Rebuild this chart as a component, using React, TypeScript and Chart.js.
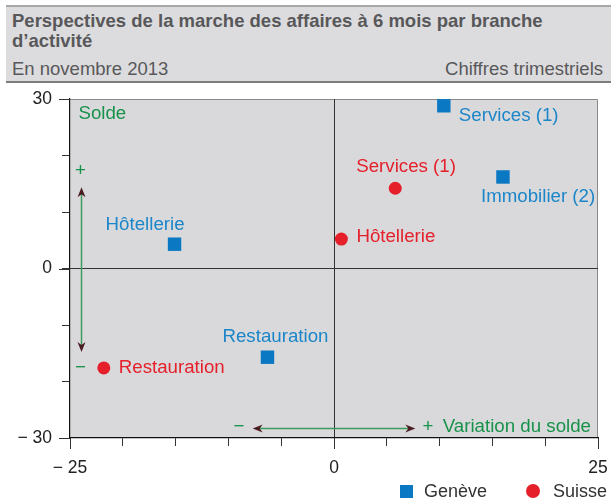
import React, { useEffect, useRef } from "react";
import { Chart, registerables } from "chart.js";
Chart.register(...registerables);

// ---- data ----
const geneveNames = ["Services (1)", "Immobilier (2)", "Hôtellerie", "Restauration"];
const geneveX = [10.4, 16.0, -15.1, -6.3];
const geneveY = [28.8, 16.2, 4.3, -15.7];

const suisseNames = ["Services (1)", "Hôtellerie", "Restauration"];
const suisseX = [5.8, 0.7, -21.8];
const suisseY = [14.2, 5.2, -17.6];

const xTickLabels: Record<string, string> = { "-25": "− 25", "0": "0", "25": "25" };
const yTickLabels: Record<string, string> = { "30": "30", "0": "0", "-30": "− 30" };

const seriesNames = ["Genève", "Suisse"];

// ---- styles ----
const BLUE = "#0a78c2";
const BLUE_TXT = "#1b86c9";
const RED = "#e5202b";
const GREEN = "#17924a";
const ARROW_HEAD = "#4a1c22";
const FONT = "'Liberation Sans', Arial, sans-serif";

const genevePlacement = [
  { dx: 15, dy: 10, align: "left" },
  { dx: -22, dy: 20, align: "left" },
  { dx: 10, dy: -19, align: "right" },
  { dx: -45, dy: -20, align: "left" },
];
const suissePlacement = [
  { dx: -39, dy: -21, align: "left" },
  { dx: 15, dy: -2, align: "left" },
  { dx: 15, dy: 0, align: "left" },
];

function arrowHead(ctx: CanvasRenderingContext2D, x: number, y: number, ang: number) {
  ctx.save();
  ctx.translate(x, y);
  ctx.rotate(ang);
  ctx.fillStyle = ARROW_HEAD;
  ctx.beginPath();
  ctx.moveTo(0, 0);
  ctx.lineTo(-10, -4);
  ctx.lineTo(-7, 0);
  ctx.lineTo(-10, 4);
  ctx.closePath();
  ctx.fill();
  ctx.restore();
}

const decorPlugin = {
  id: "decor",
  beforeDraw(chart: any) {
    const { ctx, chartArea: a } = chart;
    ctx.save();
    ctx.fillStyle = "#d9d9db";
    ctx.fillRect(a.left, a.top, a.right - a.left, a.bottom - a.top);
    ctx.strokeStyle = "#8a8a8a";
    ctx.lineWidth = 1;
    ctx.beginPath();
    ctx.moveTo(a.left, a.top + 0.5);
    ctx.lineTo(a.right - 0.5, a.top + 0.5);
    ctx.lineTo(a.right - 0.5, a.bottom);
    ctx.stroke();
    ctx.restore();
  },
  afterDraw(chart: any) {
    // longer marks for labelled ticks
    const { ctx, chartArea: a } = chart;
    const xs = chart.scales.x;
    const ys = chart.scales.y;
    ctx.save();
    ctx.strokeStyle = "#333";
    ctx.lineWidth = 1;
    Object.keys(xTickLabels).forEach((k) => {
      const x = Math.round(xs.getPixelForValue(Number(k))) + 0.5;
      ctx.beginPath();
      ctx.moveTo(x, a.bottom);
      ctx.lineTo(x, a.bottom + 11);
      ctx.stroke();
    });
    Object.keys(yTickLabels).forEach((k) => {
      const y = Math.round(ys.getPixelForValue(Number(k))) + 0.5;
      ctx.beginPath();
      ctx.moveTo(a.left, y);
      ctx.lineTo(a.left - 11, y);
      ctx.stroke();
    });
    ctx.restore();
  },
  afterDatasetsDraw(chart: any) {
    const { ctx } = chart;
    const xs = chart.scales.x;
    const ys = chart.scales.y;
    const px = (v: number) => xs.getPixelForValue(v);
    const py = (v: number) => ys.getPixelForValue(v);
    ctx.save();
    ctx.font = `18.7px ${FONT}`;
    ctx.textBaseline = "middle";
    // point labels
    geneveNames.forEach((n, i) => {
      const p = genevePlacement[i];
      ctx.fillStyle = BLUE_TXT;
      ctx.textAlign = p.align;
      ctx.fillText(n, px(geneveX[i]) + p.dx, py(geneveY[i]) + p.dy);
    });
    suisseNames.forEach((n, i) => {
      const p = suissePlacement[i];
      ctx.fillStyle = RED;
      ctx.textAlign = p.align;
      ctx.fillText(n, px(suisseX[i]) + p.dx, py(suisseY[i]) + p.dy);
    });
    // annotations
    ctx.fillStyle = GREEN;
    ctx.textAlign = "left";
    ctx.fillText("Solde", px(-24.2), py(27.3));
    ctx.textAlign = "center";
    ctx.fillText("+", px(-24), py(17.3));
    ctx.fillText("−", px(-24), py(-17.6));
    ctx.fillText("−", px(-9), py(-28.1));
    ctx.fillText("+", px(8.9), py(-28.1));
    ctx.textAlign = "left";
    ctx.fillText("Variation du solde", px(10.3), py(-28.1));
    // arrows
    ctx.strokeStyle = "#3c9a5c";
    ctx.lineWidth = 1.5;
    const vx = Math.round(px(-24)) + 0.5;
    const vt = py(14.4), vb = py(-14.8);
    ctx.beginPath();
    ctx.moveTo(vx, vt + 4);
    ctx.lineTo(vx, vb - 4);
    ctx.stroke();
    arrowHead(ctx, vx, vt, -Math.PI / 2);
    arrowHead(ctx, vx, vb, Math.PI / 2);
    const hy = Math.round(py(-28.2)) + 0.5;
    const hl = px(-7.7), hr = px(7.7);
    ctx.beginPath();
    ctx.moveTo(hl + 4, hy);
    ctx.lineTo(hr - 4, hy);
    ctx.stroke();
    arrowHead(ctx, hl, hy, Math.PI);
    arrowHead(ctx, hr, hy, 0);
    ctx.restore();
  },
};

export default function App() {
  const ref = useRef<HTMLCanvasElement>(null);
  useEffect(() => {
    if (!ref.current) return;
    const chart = new Chart(ref.current, {
      type: "scatter",
      data: {
        datasets: [
          {
            label: seriesNames[0],
            data: geneveX.map((x, i) => ({ x, y: geneveY[i] })),
            backgroundColor: BLUE,
            borderColor: BLUE,
            pointStyle: "rect",
            pointRadius: 9.5,
            pointHoverRadius: 9.5,
            borderWidth: 0,
          },
          {
            label: seriesNames[1],
            data: suisseX.map((x, i) => ({ x, y: suisseY[i] })),
            backgroundColor: RED,
            borderColor: RED,
            pointStyle: "circle",
            pointRadius: 6.5,
            pointHoverRadius: 6.5,
            borderWidth: 0,
          },
        ],
      },
      options: {
        animation: false,
        responsive: false,
        events: [],
        layout: { padding: { top: 99, right: 13, bottom: 23, left: 0 } },
        plugins: { legend: { display: false }, tooltip: { enabled: false } },
        scales: {
          x: {
            type: "linear",
            min: -25,
            max: 25,
            afterFit: (s: any) => { s.height = 40; s.paddingLeft = 0; s.paddingRight = 0; },
            border: { color: "#111", width: 1.2 },
            grid: {
              color: (c: any) => (c.tick && c.tick.value === 0 ? "#333" : "rgba(0,0,0,0)"),
              tickColor: "#333",
              tickLength: 8,
              lineWidth: 1,
            },
            ticks: {
              stepSize: 5,
              autoSkip: false,
              maxRotation: 0,
              padding: 12,
              color: "#222",
              font: { family: FONT, size: 17.5 },
              callback: (v: any) => xTickLabels[String(v)] ?? "",
            },
          },
          y: {
            type: "linear",
            min: -30,
            max: 30,
            afterFit: (s: any) => { s.width = 70; s.paddingTop = 0; s.paddingBottom = 0; },
            border: { color: "#111", width: 1.2 },
            grid: {
              color: (c: any) => (c.tick && c.tick.value === 0 ? "#333" : "rgba(0,0,0,0)"),
              tickColor: "#333",
              tickLength: 8,
              lineWidth: 1,
            },
            ticks: {
              stepSize: 10,
              autoSkip: false,
              padding: 10,
              color: "#222",
              font: { family: FONT, size: 17.5 },
              callback: (v: any) => yTickLabels[String(v)] ?? "",
            },
          },
        },
      },
      plugins: [decorPlugin],
    } as any);
    return () => chart.destroy();
  }, []);

  return (
    <div style={{ position: "absolute", left: 0, top: 0, width: 611, height: 501, background: "#fff", fontFamily: FONT }}>
      <canvas ref={ref} width={611} height={501} style={{ position: "absolute", left: 0, top: 0, display: "block" }} />
      <div
        style={{
          position: "absolute", left: 6, top: 5, width: 605, height: 74,
          background: "#dcdcde", borderTop: "2px solid #a8a8aa", borderBottom: "2px solid #7d7d7f",
          color: "#58585a",
        }}
      >
        <div style={{ position: "absolute", left: 6, top: 4, width: 590, fontWeight: "bold", fontSize: 18.5, lineHeight: "20px" }}>
          Perspectives de la marche des affaires à 6 mois par branche d’activité
        </div>
        <div style={{ position: "absolute", left: 6, top: 52, fontSize: 18.5, lineHeight: "20px" }}>En novembre 2013</div>
        <div style={{ position: "absolute", right: 8, top: 52, fontSize: 18.5, lineHeight: "20px" }}>Chiffres trimestriels</div>
      </div>
      <div style={{ position: "absolute", left: 400, top: 485, width: 13, height: 13, background: BLUE }} />
      <div style={{ position: "absolute", left: 424, top: 480, fontSize: 18, lineHeight: "22px", color: "#333" }}>{seriesNames[0]}</div>
      <div style={{ position: "absolute", left: 526, top: 484, width: 14, height: 14, borderRadius: "50%", background: RED }} />
      <div style={{ position: "absolute", left: 553, top: 480, fontSize: 18, lineHeight: "22px", color: "#333" }}>{seriesNames[1]}</div>
    </div>
  );
}
